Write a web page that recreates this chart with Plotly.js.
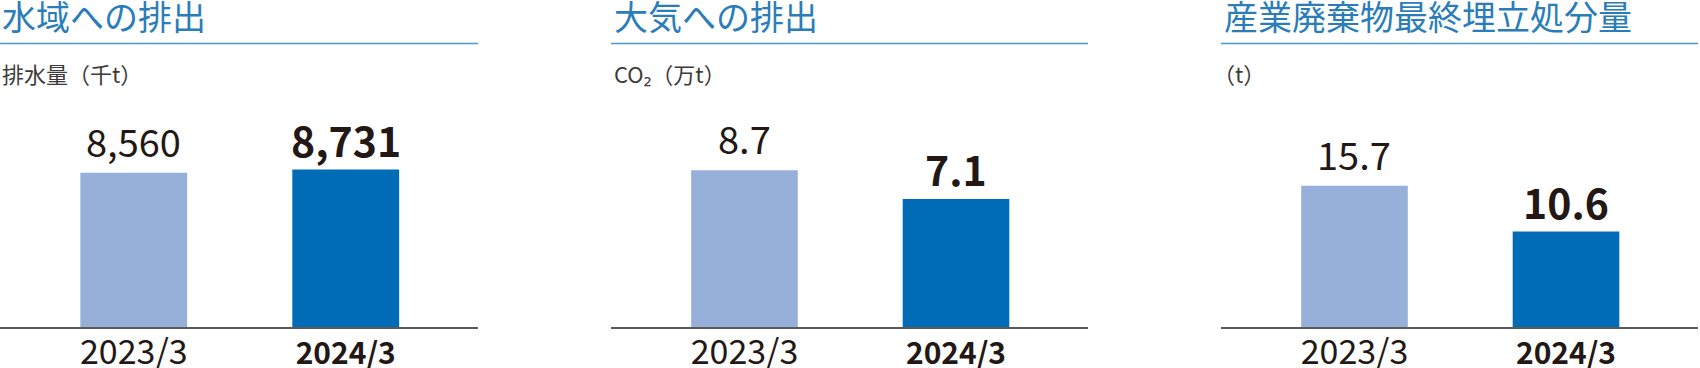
<!DOCTYPE html>
<html>
<head>
<meta charset="utf-8">
<script src="https://cdn.plot.ly/plotly-3.0.1.min.js"></script>
<style>html,body{margin:0;padding:0;background:#fff;}#chart{width:1700px;height:368px;}</style>
</head>
<body>
<div id="chart"></div>
<script>
// ---- data ----
const categories = ["2023/3", "2024/3"];
const tickLabels = ["2023/3", "<b>2024/3</b>"];
const panelTitles = ["水域への排出", "大気への排出", "産業廃棄物最終埋立処分量"];
const panelUnits = ["排水量（千t）", "CO₂（万t）", "（t）"];
const waterDischarge = [8560, 8731];     // 千t
const co2Emissions = [8.7, 7.1];         // 万t
const landfillWaste = [15.7, 10.6];      // t
const valueLabels = [["8,560", "8,731"], ["8.7", "7.1"], ["15.7", "10.6"]];

// ---- styling ----
const FONT = '"Noto Sans CJK JP", "Noto Sans", sans-serif';
const barColors = ["#97B0D9", "#006CB7"];
const textColor = "#231815";
const W = 1700, H = 368;
const panelPx = [[0, 478], [611, 1088], [1221, 1698]];
const unitOffsetPx = [0, 1, -10];
const baselinePx = 327, topPx = 100;
// px per unit chosen so bars match the reference heights
const yMax = [12593, 12.603, 25.222];
const series = [waterDischarge, co2Emissions, landfillWaste];

const fy = px => 1 - px / H;
const fx = px => px / W;

const traces = [];
const annotations = [];
const shapes = [];
const layout = {
  width: W, height: H,
  margin: {l: 0, r: 0, t: 0, b: 0},
  paper_bgcolor: "#fff", plot_bgcolor: "#fff",
  showlegend: false,
  font: {family: FONT, color: textColor},
  annotations: annotations,
  shapes: shapes
};

series.forEach((vals, i) => {
  const n = i === 0 ? "" : String(i + 1);
  const xa = "x" + n, ya = "y" + n;
  traces.push({
    type: "bar", x: categories, y: vals, xaxis: xa, yaxis: ya,
    width: 0.504,
    marker: {color: barColors, line: {width: 0}},
    hoverinfo: "skip"
  });
  layout["xaxis" + n] = {
    domain: [fx(panelPx[i][0]), fx(panelPx[i][1])],
    anchor: ya, type: "category",
    range: [-0.631, 1.624],
    showline: true, linecolor: "#5a5a5a", linewidth: 1.5,
    showgrid: false, zeroline: false, ticks: "",
    tickvals: categories,
    ticktext: tickLabels.map((t, j) => j === 1 ? '<span style="font-size:30px">' + t + '</span>' : t),
    tickfont: {family: FONT, size: 34, color: textColor},
    ticklabelstandoff: -5,
    fixedrange: true
  };
  layout["yaxis" + n] = {
    domain: [fy(baselinePx), fy(topPx)],
    anchor: xa, range: [0, yMax[i]],
    visible: false, showgrid: false, zeroline: false, fixedrange: true
  };
  // value labels
  vals.forEach((v, j) => {
    annotations.push({
      xref: xa, yref: ya, x: categories[j], y: v,
      xanchor: "center", yanchor: "bottom",
      yshift: j === 0 ? 3 : -1,
      showarrow: false,
      text: j === 0 ? valueLabels[i][j] : "<b>" + valueLabels[i][j] + "</b>",
      font: {family: FONT, size: j === 0 ? 38 : 41, color: textColor}
    });
  });
  // panel title
  annotations.push({
    xref: "paper", yref: "paper", x: fx(panelPx[i][0] + (i === 0 ? 0 : 1)), y: fy(15),
    xanchor: "left", yanchor: "middle", showarrow: false,
    text: panelTitles[i],
    font: {family: FONT, size: 34, color: "#2A7DB8"}
  });
  // unit label
  annotations.push({
    xref: "paper", yref: "paper", x: fx(panelPx[i][0] + unitOffsetPx[i]), y: fy(73),
    xanchor: "left", yanchor: "middle", showarrow: false,
    text: panelUnits[i],
    font: {family: FONT, size: 22, color: "#3E3A39"}
  });
  // title rule
  shapes.push({
    type: "line", xref: "paper", yref: "paper",
    x0: fx(panelPx[i][0]), x1: fx(panelPx[i][1]), y0: fy(43.5), y1: fy(43.5),
    line: {color: "#4A9AD0", width: 1.5}
  });
});

Plotly.newPlot("chart", traces, layout, {staticPlot: true, displayModeBar: false});
</script>
</body>
</html>
